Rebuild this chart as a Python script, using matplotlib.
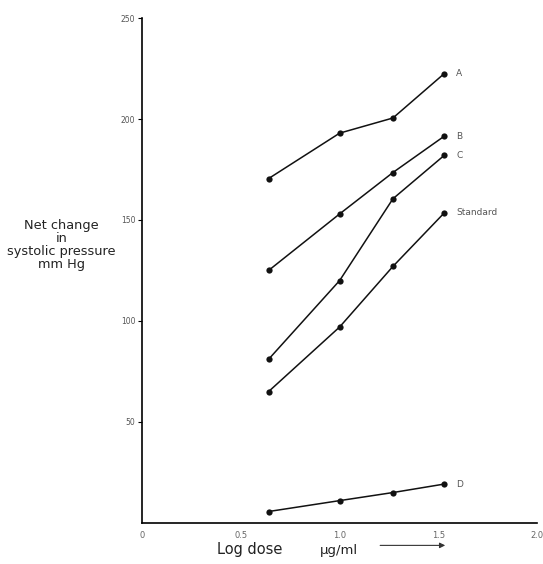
import matplotlib.pyplot as plt

# log dose (ug/ml) and net change in systolic pressure (mm Hg)
log_dose = [0.64, 1.0, 1.27, 1.53]

curve_a = [170.5, 193.0, 200.5, 222.5]
curve_b = [125.0, 153.0, 173.5, 191.5]
curve_c = [81.0, 120.0, 160.5, 182.0]
standard = [65.0, 97.0, 127.0, 153.5]
curve_d = [5.6, 11.0, 15.0, 19.2]

series = [("A", curve_a), ("B", curve_b), ("C", curve_c),
          ("Standard", standard), ("D", curve_d)]

x_ticks = [0, 0.5, 1.0, 1.5, 2.0]
x_tick_labels = ["0", "0.5", "1.0", "1.5", "2.0"]
y_ticks = [50, 100, 150, 200, 250]
y_tick_labels = ["50", "100", "150", "200", "250"]

fig = plt.figure(figsize=(5.43, 5.64), dpi=100)
ax = fig.add_axes([0.262, 0.073, 0.727, 0.895])

for name, vals in series:
    ax.plot(log_dose, vals, color="#111111", lw=1.1, marker="o",
            markersize=4.5, markerfacecolor="#111111", markeredgewidth=0)
    ax.text(log_dose[-1] + 0.06, vals[-1], name, fontsize=6.5,
            color="#555555", va="center", ha="left")

ax.set_xlim(0, 2.0)
ax.set_ylim(0, 250)
ax.spines["top"].set_visible(False)
ax.spines["right"].set_visible(False)
ax.spines["left"].set_linewidth(1.2)
ax.spines["bottom"].set_linewidth(1.2)

ax.set_xticks(x_ticks)
ax.set_xticklabels(x_tick_labels, fontsize=6, color="#666666")
ax.tick_params(axis="x", length=0, pad=6)
ax.set_yticks(y_ticks)
ax.set_yticklabels(y_tick_labels, fontsize=5.5, color="#555555")
ax.tick_params(axis="y", length=3, width=0.8, direction="out", pad=2)

fig.text(0.113, 0.565, "Net change\nin\nsystolic pressure\nmm Hg",
         ha="center", va="center", fontsize=9.3, linespacing=1.0,
         color="#222222")
fig.text(0.40, 0.018, "Log dose", fontsize=10.5, color="#222222")
fig.text(0.59, 0.018, "\u03bcg/ml", fontsize=9.5, color="#222222")
ax.annotate("", xy=(0.825, 0.033), xytext=(0.695, 0.033),
            xycoords="figure fraction", textcoords="figure fraction",
            arrowprops=dict(arrowstyle="-|>", color="#333333", lw=0.8,
                            mutation_scale=8))

fig.savefig("out.png", dpi=100)
